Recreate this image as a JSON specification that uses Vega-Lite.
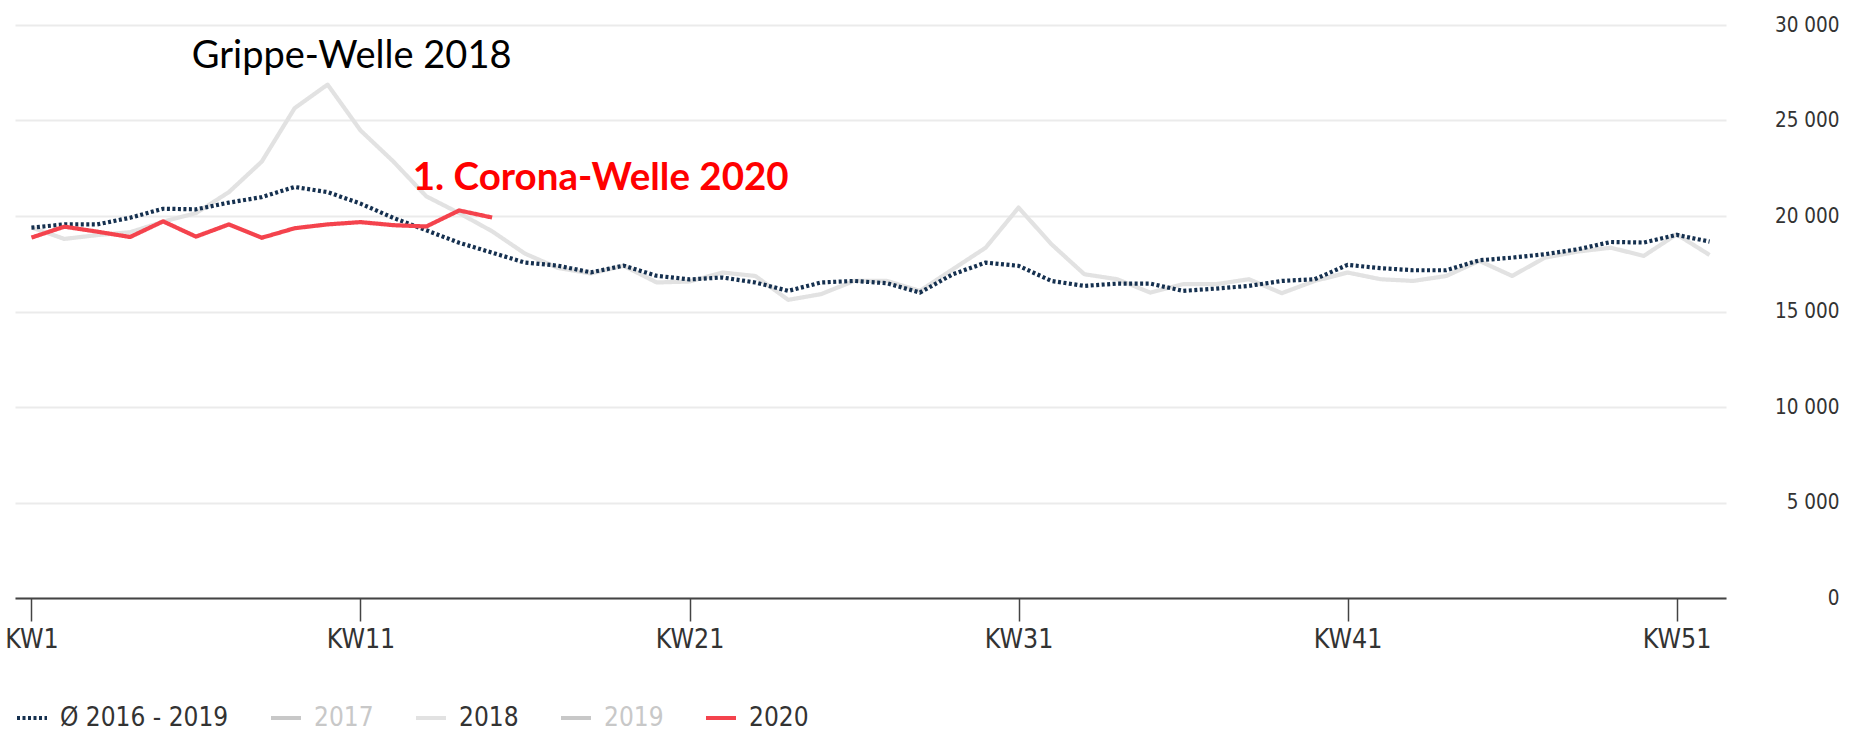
{
  "$schema": "https://vega.github.io/schema/vega-lite/v6.json",
  "width": 1711,
  "height": 573,
  "autosize": {"type": "none"},
  "padding": {"left": 15, "top": 25, "right": 137, "bottom": 135},
  "background": "white",
  "config": {"view": {"stroke": null}, "font": "'DejaVu Sans Condensed', Roboto, sans-serif"},
  "datasets": {
    "lines": [
      {"series": "2018", "week": 1, "deaths": 19400},
      {"series": "2018", "week": 2, "deaths": 18800},
      {"series": "2018", "week": 3, "deaths": 19000},
      {"series": "2018", "week": 4, "deaths": 19150},
      {"series": "2018", "week": 5, "deaths": 19700},
      {"series": "2018", "week": 6, "deaths": 20150},
      {"series": "2018", "week": 7, "deaths": 21250},
      {"series": "2018", "week": 8, "deaths": 22850},
      {"series": "2018", "week": 9, "deaths": 25650},
      {"series": "2018", "week": 10, "deaths": 26880},
      {"series": "2018", "week": 11, "deaths": 24480},
      {"series": "2018", "week": 12, "deaths": 22850},
      {"series": "2018", "week": 13, "deaths": 21030},
      {"series": "2018", "week": 14, "deaths": 20150},
      {"series": "2018", "week": 15, "deaths": 19200},
      {"series": "2018", "week": 16, "deaths": 18030},
      {"series": "2018", "week": 17, "deaths": 17280},
      {"series": "2018", "week": 18, "deaths": 16990},
      {"series": "2018", "week": 19, "deaths": 17390},
      {"series": "2018", "week": 20, "deaths": 16520},
      {"series": "2018", "week": 21, "deaths": 16570},
      {"series": "2018", "week": 22, "deaths": 17040},
      {"series": "2018", "week": 23, "deaths": 16860},
      {"series": "2018", "week": 24, "deaths": 15610},
      {"series": "2018", "week": 25, "deaths": 15910},
      {"series": "2018", "week": 26, "deaths": 16600},
      {"series": "2018", "week": 27, "deaths": 16600},
      {"series": "2018", "week": 28, "deaths": 16080},
      {"series": "2018", "week": 29, "deaths": 17210},
      {"series": "2018", "week": 30, "deaths": 18340},
      {"series": "2018", "week": 31, "deaths": 20440},
      {"series": "2018", "week": 32, "deaths": 18520},
      {"series": "2018", "week": 33, "deaths": 16950},
      {"series": "2018", "week": 34, "deaths": 16690},
      {"series": "2018", "week": 35, "deaths": 15990},
      {"series": "2018", "week": 36, "deaths": 16430},
      {"series": "2018", "week": 37, "deaths": 16430},
      {"series": "2018", "week": 38, "deaths": 16690},
      {"series": "2018", "week": 39, "deaths": 15960},
      {"series": "2018", "week": 40, "deaths": 16600},
      {"series": "2018", "week": 41, "deaths": 17040},
      {"series": "2018", "week": 42, "deaths": 16690},
      {"series": "2018", "week": 43, "deaths": 16600},
      {"series": "2018", "week": 44, "deaths": 16860},
      {"series": "2018", "week": 45, "deaths": 17650},
      {"series": "2018", "week": 46, "deaths": 16860},
      {"series": "2018", "week": 47, "deaths": 17820},
      {"series": "2018", "week": 48, "deaths": 18140},
      {"series": "2018", "week": 49, "deaths": 18340},
      {"series": "2018", "week": 50, "deaths": 17910},
      {"series": "2018", "week": 51, "deaths": 19040},
      {"series": "2018", "week": 52, "deaths": 17960},
      {"series": "Ø 2016 - 2019", "week": 1, "deaths": 19390},
      {"series": "Ø 2016 - 2019", "week": 2, "deaths": 19560},
      {"series": "Ø 2016 - 2019", "week": 3, "deaths": 19560},
      {"series": "Ø 2016 - 2019", "week": 4, "deaths": 19910},
      {"series": "Ø 2016 - 2019", "week": 5, "deaths": 20380},
      {"series": "Ø 2016 - 2019", "week": 6, "deaths": 20350},
      {"series": "Ø 2016 - 2019", "week": 7, "deaths": 20700},
      {"series": "Ø 2016 - 2019", "week": 8, "deaths": 20990},
      {"series": "Ø 2016 - 2019", "week": 9, "deaths": 21520},
      {"series": "Ø 2016 - 2019", "week": 10, "deaths": 21250},
      {"series": "Ø 2016 - 2019", "week": 11, "deaths": 20650},
      {"series": "Ø 2016 - 2019", "week": 12, "deaths": 19900},
      {"series": "Ø 2016 - 2019", "week": 13, "deaths": 19250},
      {"series": "Ø 2016 - 2019", "week": 14, "deaths": 18600},
      {"series": "Ø 2016 - 2019", "week": 15, "deaths": 18080},
      {"series": "Ø 2016 - 2019", "week": 16, "deaths": 17560},
      {"series": "Ø 2016 - 2019", "week": 17, "deaths": 17400},
      {"series": "Ø 2016 - 2019", "week": 18, "deaths": 17050},
      {"series": "Ø 2016 - 2019", "week": 19, "deaths": 17400},
      {"series": "Ø 2016 - 2019", "week": 20, "deaths": 16870},
      {"series": "Ø 2016 - 2019", "week": 21, "deaths": 16680},
      {"series": "Ø 2016 - 2019", "week": 22, "deaths": 16780},
      {"series": "Ø 2016 - 2019", "week": 23, "deaths": 16520},
      {"series": "Ø 2016 - 2019", "week": 24, "deaths": 16080},
      {"series": "Ø 2016 - 2019", "week": 25, "deaths": 16520},
      {"series": "Ø 2016 - 2019", "week": 26, "deaths": 16600},
      {"series": "Ø 2016 - 2019", "week": 27, "deaths": 16480},
      {"series": "Ø 2016 - 2019", "week": 28, "deaths": 15990},
      {"series": "Ø 2016 - 2019", "week": 29, "deaths": 16950},
      {"series": "Ø 2016 - 2019", "week": 30, "deaths": 17560},
      {"series": "Ø 2016 - 2019", "week": 31, "deaths": 17390},
      {"series": "Ø 2016 - 2019", "week": 32, "deaths": 16600},
      {"series": "Ø 2016 - 2019", "week": 33, "deaths": 16340},
      {"series": "Ø 2016 - 2019", "week": 34, "deaths": 16460},
      {"series": "Ø 2016 - 2019", "week": 35, "deaths": 16460},
      {"series": "Ø 2016 - 2019", "week": 36, "deaths": 16080},
      {"series": "Ø 2016 - 2019", "week": 37, "deaths": 16200},
      {"series": "Ø 2016 - 2019", "week": 38, "deaths": 16340},
      {"series": "Ø 2016 - 2019", "week": 39, "deaths": 16600},
      {"series": "Ø 2016 - 2019", "week": 40, "deaths": 16690},
      {"series": "Ø 2016 - 2019", "week": 41, "deaths": 17440},
      {"series": "Ø 2016 - 2019", "week": 42, "deaths": 17270},
      {"series": "Ø 2016 - 2019", "week": 43, "deaths": 17160},
      {"series": "Ø 2016 - 2019", "week": 44, "deaths": 17160},
      {"series": "Ø 2016 - 2019", "week": 45, "deaths": 17680},
      {"series": "Ø 2016 - 2019", "week": 46, "deaths": 17820},
      {"series": "Ø 2016 - 2019", "week": 47, "deaths": 18000},
      {"series": "Ø 2016 - 2019", "week": 48, "deaths": 18260},
      {"series": "Ø 2016 - 2019", "week": 49, "deaths": 18640},
      {"series": "Ø 2016 - 2019", "week": 50, "deaths": 18610},
      {"series": "Ø 2016 - 2019", "week": 51, "deaths": 19010},
      {"series": "Ø 2016 - 2019", "week": 52, "deaths": 18660},
      {"series": "2020", "week": 1, "deaths": 18870},
      {"series": "2020", "week": 2, "deaths": 19440},
      {"series": "2020", "week": 3, "deaths": 19180},
      {"series": "2020", "week": 4, "deaths": 18900},
      {"series": "2020", "week": 5, "deaths": 19720},
      {"series": "2020", "week": 6, "deaths": 18920},
      {"series": "2020", "week": 7, "deaths": 19560},
      {"series": "2020", "week": 8, "deaths": 18860},
      {"series": "2020", "week": 9, "deaths": 19360},
      {"series": "2020", "week": 10, "deaths": 19560},
      {"series": "2020", "week": 11, "deaths": 19680},
      {"series": "2020", "week": 12, "deaths": 19520},
      {"series": "2020", "week": 13, "deaths": 19450},
      {"series": "2020", "week": 14, "deaths": 20290},
      {"series": "2020", "week": 15, "deaths": 19920}
    ],
    "notes": [
      {"week": 10.73, "value": 27750, "label": "Grippe-Welle 2018", "kind": "flu"},
      {"week": 18.3, "value": 21360, "label": "1. Corona-Welle 2020", "kind": "corona"}
    ]
  },
  "layer": [
    {
      "data": {"name": "lines"},
      "mark": {"type": "line", "strokeWidth": 4.2, "strokeCap": "butt", "strokeJoin": "round"},
      "encoding": {
        "x": {
          "field": "week", "type": "quantitative",
          "scale": {"domain": [0.5, 52.5], "nice": false, "zero": false},
          "axis": {
            "orient": "bottom", "title": null, "values": [1, 11, 21, 31, 41, 51],
            "labelExpr": "'KW' + datum.value", "grid": false,
            "domainColor": "#444444", "domainWidth": 2,
            "tickColor": "#444444", "tickWidth": 1.5, "tickSize": 23,
            "labelPadding": 5, "labelFontSize": 26.5, "labelColor": "#333333",
            "labelFont": "'DejaVu Sans Condensed', Roboto, sans-serif"
          }
        },
        "y": {
          "field": "deaths", "type": "quantitative",
          "scale": {"domain": [0, 30000], "nice": false},
          "axis": {
            "orient": "right", "title": null,
            "values": [0, 5000, 10000, 15000, 20000, 25000, 30000],
            "domain": false, "ticks": false, "tickSize": 0,
            "labelPadding": 113, "labelAlign": "right", "labelBaseline": "middle",
            "labelFontSize": 20.5, "labelColor": "#333333", "labelFont": "'DejaVu Sans Condensed', Roboto, sans-serif",
            "gridColor": "#ebebeb", "gridWidth": 2,
            "labelExpr": "replace(format(datum.value, ','), ',', ' ')"
          }
        },
        "color": {
          "field": "series", "type": "nominal",
          "scale": {
            "domain": ["Ø 2016 - 2019", "2017", "2018", "2019", "2020"],
            "range": ["#15304f", "#c8c8c8", "#e2e2e2", "#c8c8c8", "#f4434d"]
          },
          "legend": {
            "title": null, "orient": "none", "legendX": 0, "legendY": 676,
            "direction": "horizontal", "columns": 5, "columnPadding": 34,
            "symbolType": "stroke", "symbolSize": 900, "symbolStrokeWidth": 4,
            "labelFontSize": 26, "labelFont": "'DejaVu Sans Condensed', Roboto, sans-serif", "labelColor": "#333333",
            "labelOffset": 11, "labelLimit": 400,
            "encode": {"labels": {"update": {"fill": {"signal": "datum.label === '2017' || datum.label === '2019' ? '#c8c8c8' : '#333333'"}}}}
          }
        },
        "strokeDash": {
          "field": "series", "type": "nominal",
          "scale": {
            "domain": ["Ø 2016 - 2019", "2017", "2018", "2019", "2020"],
            "range": [[3, 2.5], [1, 0], [1, 0], [1, 0], [1, 0]]
          },
          "legend": {
            "title": null, "orient": "none", "legendX": 0, "legendY": 676,
            "direction": "horizontal", "columns": 5, "columnPadding": 34,
            "symbolType": "stroke", "symbolSize": 900, "symbolStrokeWidth": 4,
            "labelFontSize": 26, "labelFont": "'DejaVu Sans Condensed', Roboto, sans-serif", "labelColor": "#333333",
            "labelOffset": 11, "labelLimit": 400,
            "encode": {"labels": {"update": {"fill": {"signal": "datum.label === '2017' || datum.label === '2019' ? '#c8c8c8' : '#333333'"}}}}
          }
        },
        "order": {"field": "week", "type": "quantitative"}
      }
    },
    {
      "data": {"name": "notes"},
      "transform": [{"filter": "datum.kind === 'flu'"}],
      "mark": {"type": "text", "font": "Lato", "fontSize": 38, "align": "center", "baseline": "alphabetic", "color": "#000000"},
      "encoding": {
        "x": {"field": "week", "type": "quantitative"},
        "y": {"field": "value", "type": "quantitative"},
        "text": {"field": "label", "type": "nominal"}
      }
    },
    {
      "data": {"name": "notes"},
      "transform": [{"filter": "datum.kind === 'corona'"}],
      "mark": {"type": "text", "font": "Lato", "fontSize": 38.5, "fontWeight": "bold", "align": "center", "baseline": "alphabetic", "color": "#ff0000"},
      "encoding": {
        "x": {"field": "week", "type": "quantitative"},
        "y": {"field": "value", "type": "quantitative"},
        "text": {"field": "label", "type": "nominal"}
      }
    }
  ]
}
